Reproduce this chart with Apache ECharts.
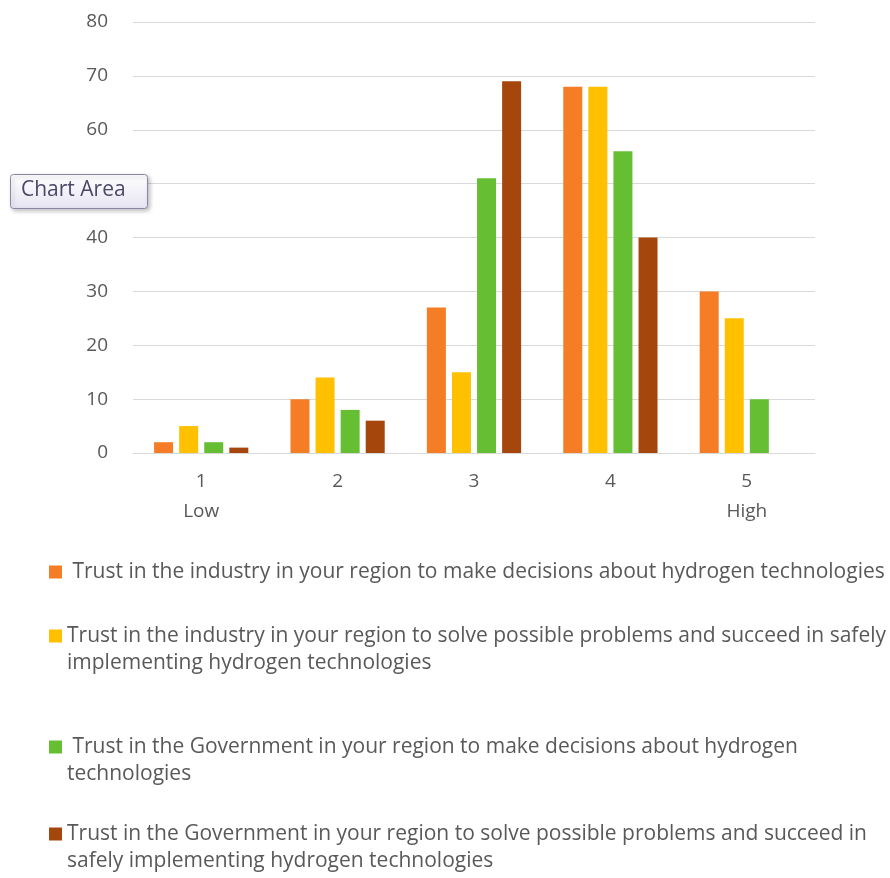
<!DOCTYPE html>
<html>
<head>
<meta charset="utf-8" />
<title>Trust in hydrogen technologies</title>
<script src="https://cdn.jsdelivr.net/npm/echarts@6/dist/echarts.min.js"></script>
<style>
	* { margin: 0; padding: 0; }
	#chart-container { width: 890px; height: 878px; background: #fff; }
</style>
</head>
<body>
<div id="chart-container"></div>
<script>
	var categories = ["1\nLow", "2", "3", "4", "5\nHigh"];
	var seriesNames = [
		"Trust in the industry in your region to make decisions about hydrogen technologies",
		"Trust in the industry in your region to solve possible problems and succeed in safely implementing hydrogen technologies",
		"Trust in the Government in your region to make decisions about hydrogen technologies",
		"Trust in the Government in your region to solve possible problems and succeed in safely implementing hydrogen technologies"
	];
	// legend text as it wraps in the picture
	var legendLabels = [
		" Trust in the industry in your region to make decisions about hydrogen technologies",
		"Trust in the industry in your region to solve possible problems and succeed in safely\nimplementing hydrogen technologies",
		" Trust in the Government in your region to make decisions about hydrogen\ntechnologies",
		"Trust in the Government in your region to solve possible problems and succeed in\nsafely implementing hydrogen technologies"
	];
	var industryDecisions = [2, 10, 27, 68, 30];
	var industrySolve = [5, 14, 15, 68, 25];
	var governmentDecisions = [2, 8, 51, 56, 10];
	var governmentSolve = [1, 6, 69, 40, 0];
	var seriesValues = [industryDecisions, industrySolve, governmentDecisions, governmentSolve];
	var colors = ["#F47D25", "#FFC000", "#66BF33", "#A5460D"];

	// first-line centre of each legend entry
	var legendLines = [572, 636, 747, 834];
	var lineH = 27;

	var dom = document.getElementById("chart-container");
	var myChart = echarts.init(dom, null, { renderer: "canvas" });

	var textColor = "#595959";
	var font = "'Open Sans', sans-serif";

	var legends = [];
	for (let i = 0; i < seriesNames.length; i++) {
		var twoLines = legendLabels[i].indexOf("\n") >= 0;
		// a blank first line keeps the marker level with the first text line
		var label = twoLines ? " \n" + legendLabels[i] : legendLabels[i];
		legends.push({
			data: [seriesNames[i]],
			left: 49,
			top: twoLines ? legendLines[i] - 1.5 * lineH : legendLines[i] - 0.5 * lineH,
			padding: 0,
			itemWidth: 13,
			itemHeight: 13,
			icon: "rect",
			selectedMode: false,
			formatter: (function (t) { return function () { return t; }; })(label),
			textStyle: {
				color: textColor,
				fontFamily: font,
				fontSize: 21,
				lineHeight: lineH
			}
		});
	}

	var series = [];
	for (let i = 0; i < seriesNames.length; i++) {
		series.push({
			name: seriesNames[i],
			type: "bar",
			data: seriesValues[i],
			barWidth: 19,
			barGap: "32%",
			itemStyle: { color: colors[i] }
		});
	}

	var option = {
		animation: false,
		color: colors,
		legend: legends,
		grid: { left: 133, right: 75, top: 22, bottom: 425 },
		xAxis: {
			type: "category",
			data: categories,
			axisLine: { lineStyle: { color: "#d9d9d9" } },
			axisTick: { show: false },
			axisLabel: {
				color: textColor,
				fontFamily: font,
				fontSize: 19,
				lineHeight: 30,
				margin: 14
			}
		},
		yAxis: {
			type: "value",
			min: 0,
			max: 80,
			interval: 10,
			axisLine: { show: false },
			axisTick: { show: false },
			splitLine: { lineStyle: { color: "#d9d9d9" } },
			axisLabel: {
				color: textColor,
				fontFamily: font,
				fontSize: 19,
				margin: 25
			}
		},
		series: series,
		graphic: [
			{
				type: "rect",
				left: 10,
				top: 174,
				z: 100,
				zlevel: 1,
				shape: { width: 137, height: 34, r: 3 },
				style: {
					fill: {
						type: "linear", x: 0, y: 0, x2: 0, y2: 1,
						colorStops: [
							{ offset: 0, color: "#ffffff" },
							{ offset: 1, color: "#e6e4f2" }
						]
					},
					stroke: "#8c88a4",
					lineWidth: 1,
					shadowBlur: 4,
					shadowOffsetX: 2,
					shadowOffsetY: 2,
					shadowColor: "rgba(0,0,0,0.25)"
				}
			},
			{
				type: "text",
				left: 21,
				top: 180,
				z: 101,
				zlevel: 1,
				style: {
					text: "Chart Area",
					fill: "#4a4866",
					font: "21px " + font
				}
			}
		]
	};

	myChart.setOption(option);
	window.addEventListener("resize", myChart.resize);
</script>
</body>
</html>
